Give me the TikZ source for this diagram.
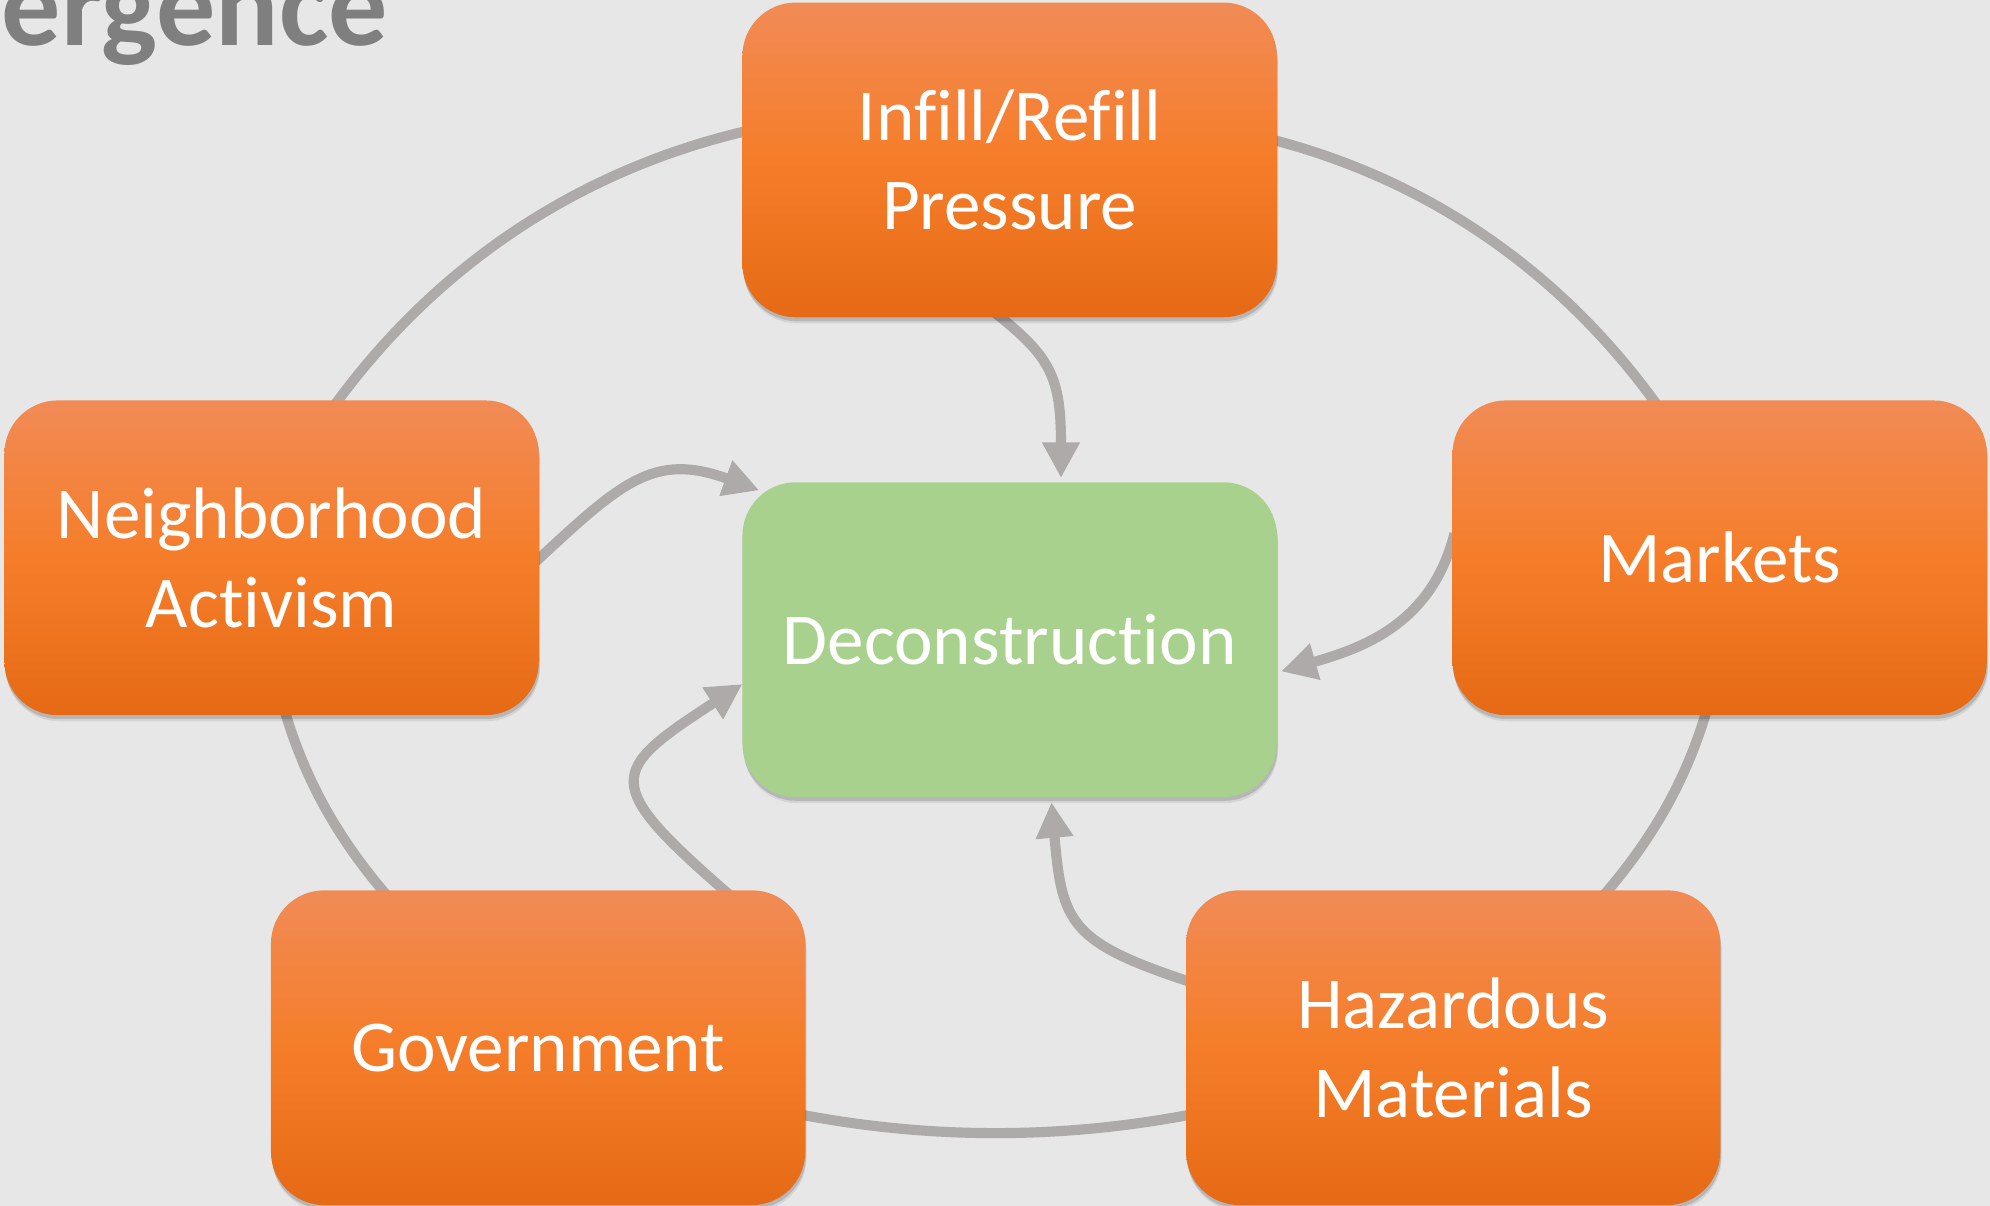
\documentclass[tikz,border=0pt]{standalone}
\usepackage{fontspec}
\setmainfont{Carlito}[Ligatures={NoCommon}]
\usetikzlibrary{arrows.meta,calc,shadows}
\definecolor{bgc}{RGB}{231,231,231}
\definecolor{linec}{RGB}{174,170,170}
\definecolor{otop}{RGB}{241,139,86}
\definecolor{omid}{RGB}{245,125,41}
\definecolor{obot}{RGB}{230,106,22}
\definecolor{grn}{RGB}{169,209,142}
\definecolor{ttlc}{RGB}{127,127,127}
\pgfdeclarelayer{bg}
\pgfdeclarelayer{lines}
\pgfsetlayers{bg,lines,main}
\begin{document}
\begin{tikzpicture}[x=0.5pt,y=-0.5pt,
  box/.style={rounded corners=21pt, minimum width=210.5pt, minimum height=124pt,
    inner sep=0pt, text=white, align=center, font=\fontsize{28.8}{35}\selectfont,
    general shadow={fill=black,opacity=0.08,shadow xshift=0.5pt,shadow yshift=-2.4pt},
    general shadow={fill=black,opacity=0.14,shadow xshift=0.3pt,shadow yshift=-1.5pt}},
  obox/.style={box, top color=otop, bottom color=obot, middle color=omid},
  gbox/.style={box, fill=grn},
  conn/.style={draw=linec, line width=4pt},
  ring/.style={conn, shorten <=-4pt, shorten >=-4pt},
  arr/.style={conn, shorten <=-4pt, -{Triangle[length=14pt,width=14pt]}},
]
\useasboundingbox (0,0) rectangle (1568,950);
\begin{pgfonlayer}{bg}
  \fill[bgc] (0,0) rectangle (1568,950);
\end{pgfonlayer}

\node[anchor=base west, inner sep=0pt, text=ttlc,
      font=\fontsize{46.5}{54}\selectfont\bfseries] (title) at (1,35.5) {ergence};

\node[obox] (inf) at (795.5,126) {Infill/Refill\\Pressure};
\node[obox] (nbh) at (214,439.5) {Neighborhood\\Activism};
\node[obox] (mkt) at (1355,439.5) {Markets};
\node[gbox] (dec) at (795.5,504) {Deconstruction};
\node[obox] (gov) at (424,825.5) {Government};
\node[obox] (haz) at (1145,825.5) {Hazardous\\Materials};

\begin{pgfonlayer}{lines}
  % outer ring
  \draw[ring] ($(inf.west)+(0,-22)$) to[out=192.8,in=54.2,looseness=0.88] ($(nbh.north)+(52.6,0)$);
  \draw[ring] ($(inf.east)+(0,-15)$) to[out=-14.2,in=125.5,looseness=0.877] ($(mkt.north)+(-52.2,0)$);
  \draw[ring] ($(nbh.south)+(11.4,0)$) to[out=-74,in=131,out looseness=0.82,in looseness=0.9] ($(gov.north)+(-123,0)$);
  \draw[ring] ($(mkt.south)+(-11.4,0)$) to[out=254,in=49,out looseness=0.82,in looseness=0.9] ($(haz.north)+(122.4,0)$);
  \draw[ring] ($(gov.east)+(0,53.5)$) to[out=-11,in=191,looseness=0.85] ($(haz.west)+(0,53.5)$);
  % arrows into Deconstruction
  \draw[arr] ($(inf.south)+(-6.5,0)$) to[out=-38,in=90,out looseness=0.94,in looseness=1.51] ($(dec.north)+(40.5,-3)$);
  \draw[arr] ($(nbh.east)+(0,0.5)$) to[out=43,in=160,looseness=1.25] ($(dec.north west)+(13.6,6.7)$);
  \draw[arr] ($(mkt.west)+(0,-11.5)$) to[out=256,in=16] ($(dec.east)+(3,25)$);
  \draw[arr] ($(haz.west)+(0,-53)$) to[out=162,in=-85,looseness=1.4] ($(dec.south)+(33,3.7)$);
  \draw[arr] ($(gov.north)+(145,-1)$) to[out=139,in=213,looseness=2] ($(dec.west)+(0.4,35)$);
\end{pgfonlayer}
\end{tikzpicture}
\end{document}
